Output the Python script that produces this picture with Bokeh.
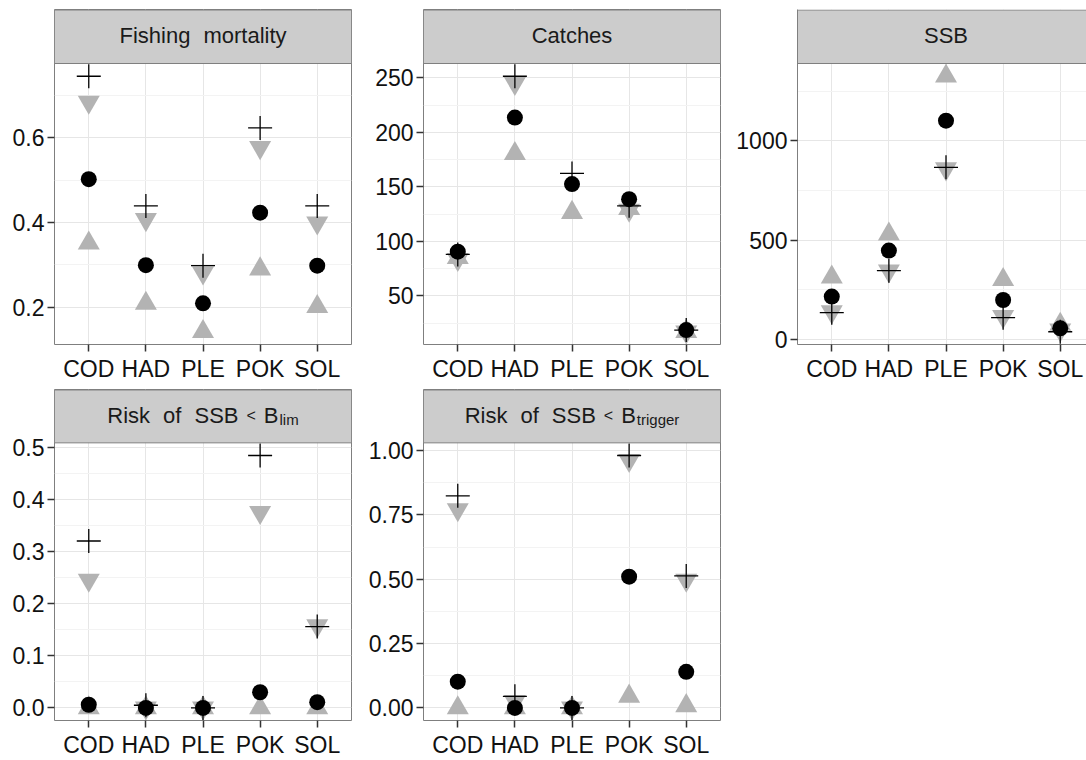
import numpy as np
from bokeh.plotting import figure
from bokeh.layouts import column, row
from bokeh.models import Range1d, FixedTicker
from bokeh.core.properties import value
from bokeh.embed import file_html
from bokeh.resources import INLINE

nan = float("nan")

# ---------------- data ----------------
species = ["COD", "HAD", "PLE", "POK", "SOL"]

# Fishing mortality
fm_up = [0.351, 0.209, 0.142, 0.290, 0.201]
fm_down = [0.684, 0.407, 0.281, 0.577, 0.399]
fm_cross = [0.745, 0.439, 0.298, 0.623, 0.439]
fm_circle = [0.502, 0.299, 0.209, 0.423, 0.298]
fm_ticks = [0.2, 0.4, 0.6]
fm_labels = ["0.2", "0.4", "0.6"]
fm_minor = [0.1, 0.3, 0.5, 0.7]

# Catches
ca_up = [85, 180.5, 126.4, 130, 17]
ca_down = [83.5, 245, nan, 128.6, 17]
ca_cross = [88, 251.5, 162.3, 132.6, 18.5]
ca_circle = [90.5, 213.6, 152.5, 138.7, 18.5]
ca_ticks = [50, 100, 150, 200, 250]
ca_labels = ["50", "100", "150", "200", "250"]
ca_minor = [25, 75, 125, 175, 225]

# SSB
ssb_up = [313, 530, 1326, 300, 75]
ssb_down = [139, 345, 860, 116, 48]
ssb_cross = [134, 346, 867, 109, 38]
ssb_circle = [215, 447, 1102, 198, 55]
ssb_ticks = [0, 500, 1000]
ssb_labels = ["0", "500", "1000"]
ssb_minor = [250, 750, 1250]

# Risk of SSB < Blim
rl_up = [0.0, 0.0, 0.0, 0.0, 0.0]
rl_down = [0.245, 0.0, 0.0, 0.375, 0.158]
rl_cross = [0.320, 0.005, 0.0, 0.484, 0.156]
rl_circle = [0.006, 0.0, 0.0, 0.030, 0.011]
rl_ticks = [0.0, 0.1, 0.2, 0.3, 0.4, 0.5]
rl_labels = ["0.0", "0.1", "0.2", "0.3", "0.4", "0.5"]
rl_minor = [0.05, 0.15, 0.25, 0.35, 0.45]

# Risk of SSB < Btrigger
rt_up = [0.0, 0.0, 0.0, 0.045, 0.008]
rt_down = [0.771, 0.025, 0.0, 0.962, 0.497]
rt_cross = [0.824, 0.045, 0.0, 0.981, 0.513]
rt_circle = [0.102, 0.0, 0.0, 0.510, 0.140]
rt_ticks = [0.0, 0.25, 0.5, 0.75, 1.0]
rt_labels = ["0.00", "0.25", "0.50", "0.75", "1.00"]
rt_minor = [0.125, 0.375, 0.625, 0.875]

# ---------------- style ----------------
FONT = "Liberation Sans"
GREY_PT = "#b3b3b3"
BORDER = "#7f7f7f"
STRIP_FILL = "#cccccc"
TXT = "#111111"
STRIP_TXT = "#1a1a1a"
TICK_FS = "23px"
STRIP_H = 54          # strip height in px
PANEL_H = 281         # panel (data area) height in px
FRAME_W = 297         # full panel width in px

CHAR_W = {'R': 722, 'i': 222, 's': 500, 'k': 500, 'o': 556, 'f': 278, 'S': 667,
          'B': 667, '<': 584, 'l': 222, 'm': 833, 't': 278, 'r': 333, 'g': 556,
          'e': 556, 'F': 611, 'h': 556, 'n': 556, 'a': 556, 'y': 500, 'C': 722,
          'c': 500}


def tw(txt, size):
    return sum(CHAR_W.get(c, 556) for c in txt) / 1000.0 * size


def strip_pieces(words, sub=None):
    # (text, font size px, extra baseline drop px, gap after px)
    pcs = []
    for k, w in enumerate(words):
        gap = 13 if k < len(words) - 1 else 0
        pcs.append((w, 22, 0, gap))
    if sub is not None:
        pcs[-1] = (pcs[-1][0], 22, 0, 8)
        pcs += [("<", 16, 0, 8), ("B", 22, 0, 1), (sub, 15, 3.5, 0)]
    return pcs


def make_panel(width, left, right, top, bottom, vis_w,
               up, down, cross, circ, ticks, labels, minor, pieces):
    n = len(species)
    xs = np.arange(1, n + 1)
    allv = np.array(up + down + cross + circ, dtype=float)
    lo, hi = np.nanmin(allv), np.nanmax(allv)
    pad = 0.05 * (hi - lo)
    y0, y1 = lo - pad, hi + pad
    per_px = (y1 - y0) / PANEL_H
    y_top = y1 + STRIP_H * per_px
    x_start = 0.4
    x_full_end = n + 0.6
    x_end = x_start + (x_full_end - x_start) * vis_w / FRAME_W
    height = top + STRIP_H + PANEL_H + bottom
    p = figure(width=width, height=height,
               x_range=Range1d(x_start, x_end), y_range=Range1d(y0, y_top),
               min_border_left=left, min_border_right=right,
               min_border_top=top, min_border_bottom=bottom,
               toolbar_location=None, output_backend="svg")
    p.background_fill_color = "white"
    p.border_fill_color = "white"
    clipped = vis_w < FRAME_W
    if clipped:
        p.outline_line_color = None
    else:
        p.outline_line_color = BORDER
        p.outline_line_width = 1

    xt = FixedTicker(ticks=list(xs))
    yt = FixedTicker(ticks=ticks, minor_ticks=minor)
    p.xaxis.ticker = xt
    p.xgrid.ticker = xt
    p.yaxis.ticker = yt
    p.ygrid.ticker = yt
    p.xaxis.major_label_overrides = {int(i): s for i, s in zip(xs, species)}
    p.yaxis.major_label_overrides = {t: l for t, l in zip(ticks, labels)}

    for ax in (p.xaxis, p.yaxis):
        ax.axis_line_color = BORDER if clipped else None
        ax.major_tick_in = 0
        ax.major_tick_out = 7
        ax.major_tick_line_color = "#333333"
        ax.major_tick_line_width = 1.5
        ax.minor_tick_line_color = None
        ax.major_label_text_font = FONT
        ax.major_label_text_font_size = TICK_FS
        ax.major_label_text_color = TXT
    p.xaxis.major_label_standoff = 4
    p.yaxis.major_label_standoff = 3

    p.xgrid.grid_line_color = "#e6e6e6"
    p.ygrid.grid_line_color = "#e6e6e6"
    p.ygrid.minor_grid_line_color = "#f3f3f3"

    p.scatter(xs, np.array(up, dtype=float), marker="triangle", size=22,
              fill_color=GREY_PT, line_color=None)
    p.scatter(xs, np.array(down, dtype=float), marker="inverted_triangle", size=22,
              fill_color=GREY_PT, line_color=None)
    p.scatter(xs, np.array(cross, dtype=float), marker="cross", size=24,
              line_color="black", line_width=1.3)
    p.scatter(xs, np.array(circ, dtype=float), marker="circle", size=16,
              fill_color="black", line_color=None)

    # facet strip (grey header box) on top of the panel
    p.quad(left=x_start, right=x_full_end, bottom=y1, top=y_top - 0.5 * per_px,
           fill_color=STRIP_FILL, line_color=BORDER, line_width=1)
    xc = (x_start + x_full_end) / 2.0
    base_px = STRIP_H / 2.0 - 1       # baseline below strip top, px
    total = sum(tw(t, fs) + g for t, fs, _, g in pieces)
    off = -total / 2.0
    for t, fs, drop, g in pieces:
        p.text(x=[xc], y=[y_top], text=[t], x_offset=off, y_offset=base_px + drop,
               text_font=value(FONT), text_font_size=f"{fs}px",
               text_align="left", text_baseline="alphabetic", text_color=STRIP_TXT)
        off += tw(t, fs) + g
    return p


# column geometry (figure width, left border, right border, visible frame width)
colA = (360, 54, 9, 297)
colB = (370, 63, 10, 297)
colC = (356, 67, 0, 289)

p1 = make_panel(*colA[:3], 9, 45, colA[3], fm_up, fm_down, fm_cross, fm_circle,
                fm_ticks, fm_labels, fm_minor, strip_pieces(["Fishing", "mortality"]))
p2 = make_panel(*colB[:3], 9, 45, colB[3], ca_up, ca_down, ca_cross, ca_circle,
                ca_ticks, ca_labels, ca_minor, strip_pieces(["Catches"]))
p3 = make_panel(*colC[:3], 9, 45, colC[3], ssb_up, ssb_down, ssb_cross, ssb_circle,
                ssb_ticks, ssb_labels, ssb_minor, strip_pieces(["SSB"]))
p4 = make_panel(*colA[:3], 0, 36, colA[3], rl_up, rl_down, rl_cross, rl_circle,
                rl_ticks, rl_labels, rl_minor,
                strip_pieces(["Risk", "of", "SSB"], sub="lim"))
p5 = make_panel(*colB[:3], 0, 36, colB[3], rt_up, rt_down, rt_cross, rt_circle,
                rt_ticks, rt_labels, rt_minor,
                strip_pieces(["Risk", "of", "SSB"], sub="trigger"))

layout = column(row(p1, p2, p3, spacing=0), row(p4, p5, spacing=0), spacing=0)

open("out.html", "w").write(file_html(layout, INLINE, title="Stock indicators"))
